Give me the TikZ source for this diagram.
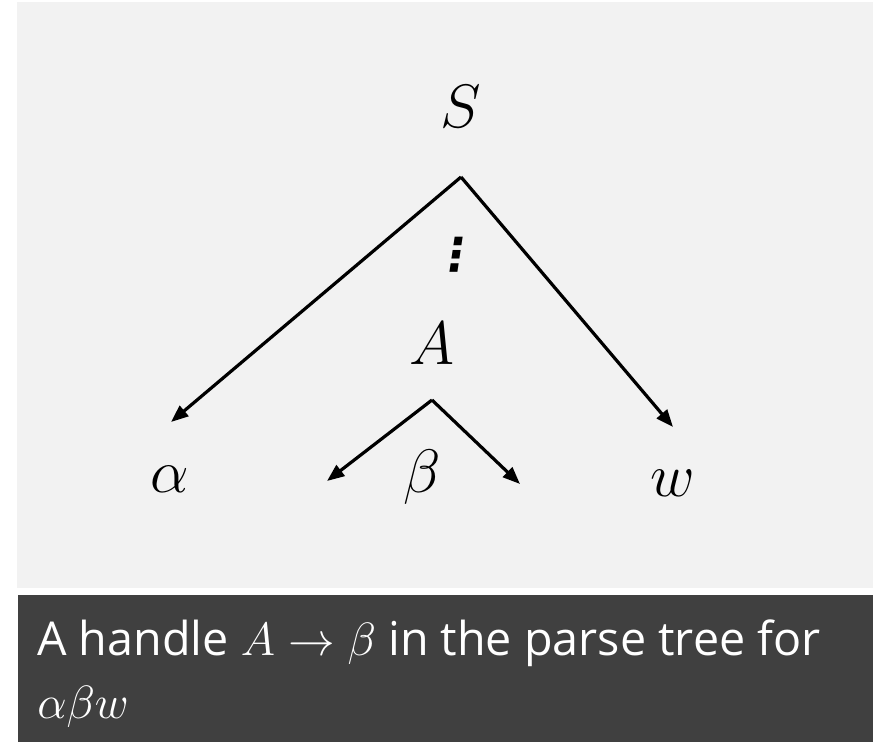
\documentclass[tikz,border=0pt]{standalone}
\usepackage{fix-cm}
\usepackage{fontspec}
\setsansfont{Open Sans}
\newfontfamily\dotsfont{DejaVu Sans}
\usetikzlibrary{arrows.meta,positioning}
\definecolor{panelgray}{HTML}{F2F2F2}
\definecolor{bargray}{HTML}{404040}
\tikzset{
  sym/.style={font=\fontsize{46}{50}\selectfont, anchor=base, inner sep=0pt},
  edge/.style={line width=2.4pt, -{Triangle[length=13pt,width=10pt]}},
  captext/.style={anchor=base west, inner sep=0pt, text=white,
    font=\sffamily\fontsize{35}{47}\selectfont}
}

\begin{document}
\begin{tikzpicture}[x=0.75pt, y=-0.75pt]
\useasboundingbox (0,0) rectangle (873,742);
% panels
\fill[panelgray] (17,2) rectangle (873,588);
\fill[bargray] (18,595) rectangle (873,742);
% tree symbols
\node[sym] (S) at (461,127) {$S$};
\node[sym] (A) at (432,364) {$A$};
\node[sym] (alpha) at (170,492) {$\alpha$};
\node[sym] (beta) at (422,492) {$\beta$};
\node[sym] (w) at (673,496) {$w$};
\node[inner sep=0pt, transform shape, xslant=0.15,
      font=\dotsfont\bfseries\fontsize{34}{40}\selectfont] (dots) at (457,255) {⋮};
% branch points and arrow ends
\coordinate (sTop) at (461,177);
\coordinate (aTop) at (432,400);
\coordinate (alphaEnd) at (171,422);
\coordinate (wEnd) at (673,427);
\coordinate (betaL) at (327,481);
\coordinate (betaR) at (520,484);
\draw[edge] (sTop) -- (alphaEnd);
\draw[edge] (sTop) -- (wEnd);
\draw[edge] (aTop) -- (betaL);
\draw[edge] (aTop) -- (betaR);
% caption
\node[captext] (caption) at (37,655) {A handle $A \rightarrow \beta$ in the parse tree for};
\node[captext] (captail) at (37,718) {$\alpha\beta w$};
\end{tikzpicture}
\end{document}
